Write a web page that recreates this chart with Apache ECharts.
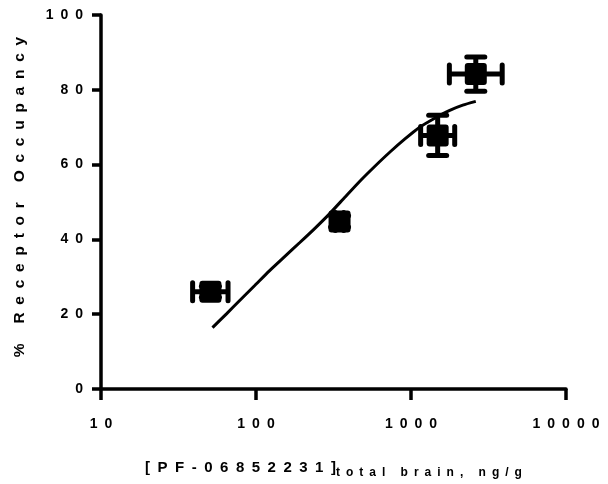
<!DOCTYPE html>
<html>
<head>
<meta charset="utf-8">
<script src="https://cdn.jsdelivr.net/npm/echarts@6/dist/echarts.min.js"></script>
<style>
html,body{margin:0;padding:0;background:#fff;}
#c{width:608px;height:484px;}
</style>
</head>
<body>
<div id="c"></div>
<script>
// Observed data (concentration ng/g, % receptor occupancy)
const pointX = [50.8, 346, 1486, 2618];
const pointY = [26.0, 44.8, 67.8, 84.2];
const xErrLow = [39, 325, 1154, 1768];
const xErrHigh = [66, 368, 1914, 3876];
const yErrLow = [24.5, 43.3, 62.4, 79.6];
const yErrHigh = [27.5, 46.3, 73.2, 88.8];
// Fitted curve
const curveX = [52.4, 64.5, 78.2, 97.8, 122, 153, 191, 239, 299, 373, 466, 583, 729, 910, 1138, 1423, 1778, 2158, 2618];
const curveY = [16.4, 20.1, 23.6, 27.6, 31.6, 35.4, 39.1, 42.9, 46.9, 51.2, 55.5, 59.5, 63.3, 66.8, 70.0, 72.4, 74.5, 75.9, 76.9];
// Axis tick labels
const xTicks = [10, 100, 1000, 10000];
const yTicks = [0, 20, 40, 60, 80, 100];
const yTitle = '% Receptor Occupancy';
const xTitleMain = '[PF-06852231]';
const xTitleSub = 'total brain, ng/g';

const sp = s => String(s).split('').join('\u2002');
const FONT = '"Liberation Sans", Arial, sans-serif';

const chart = echarts.init(document.getElementById('c'), null, {renderer: 'canvas'});

const errData = pointX.map((x, i) => [x, pointY[i], xErrLow[i], xErrHigh[i], yErrLow[i], yErrHigh[i]]);

function renderErr(params, api) {
  const x = api.value(0), y = api.value(1);
  const c = api.coord([x, y]);
  const l = api.coord([api.value(2), y]);
  const r = api.coord([api.value(3), y]);
  const b = api.coord([x, api.value(4)]);
  const t = api.coord([x, api.value(5)]);
  const st = {stroke: '#000', lineWidth: 5};
  const cap = {stroke: '#000', lineWidth: 5, lineCap: 'round'};
  const capH = 9;
  return {
    type: 'group',
    children: [
      {type: 'line', shape: {x1: l[0], y1: c[1], x2: r[0], y2: c[1]}, style: st},
      {type: 'line', shape: {x1: c[0], y1: t[1], x2: c[0], y2: b[1]}, style: st},
      {type: 'line', shape: {x1: l[0], y1: c[1] - capH, x2: l[0], y2: c[1] + capH}, style: cap},
      {type: 'line', shape: {x1: r[0], y1: c[1] - capH, x2: r[0], y2: c[1] + capH}, style: cap},
      {type: 'line', shape: {x1: c[0] - capH, y1: t[1], x2: c[0] + capH, y2: t[1]}, style: cap},
      {type: 'line', shape: {x1: c[0] - capH, y1: b[1], x2: c[0] + capH, y2: b[1]}, style: cap}
    ]
  };
}

chart.setOption({
  backgroundColor: '#fff',
  animation: false,
  grid: {left: 101, top: 15, width: 465, height: 374},
  xAxis: {
    type: 'log', logBase: 10, min: 10, max: 10000,
    axisLine: {lineStyle: {color: '#000', width: 3.5}},
    axisTick: {length: 11, lineStyle: {color: '#000', width: 3.5}},
    minorTick: {show: false},
    splitLine: {show: false},
    axisLabel: {
      margin: 28, color: '#000', fontFamily: FONT, fontWeight: 'bold', fontSize: 14,
      formatter: v => sp(v)
    },
    name: '{a|' + sp(xTitleMain) + '}{b|' + sp(xTitleSub) + '}',
    nameLocation: 'middle', nameGap: 68,
    nameTextStyle: {
      rich: {
        a: {fontFamily: FONT, fontWeight: 'bold', fontSize: 15, color: '#000'},
        b: {fontFamily: FONT, fontWeight: 'bold', fontSize: 12, color: '#000', padding: [10, 0, 0, 0]}
      }
    }
  },
  yAxis: {
    type: 'value', min: 0, max: 100, interval: 20,
    axisLine: {show: true, lineStyle: {color: '#000', width: 3.5}},
    axisTick: {show: true, length: 9, lineStyle: {color: '#000', width: 3.5}},
    splitLine: {show: false},
    axisLabel: {
      margin: 18, color: '#000', fontFamily: FONT, fontWeight: 'bold', fontSize: 14,
      formatter: v => sp(v)
    },
    name: sp(yTitle),
    nameLocation: 'middle', nameRotate: 90, nameGap: 73,
    nameTextStyle: {fontFamily: FONT, fontWeight: 'bold', fontSize: 15.5, color: '#000', padding: [0, 0, 0, 10]}
  },
  series: [
    {
      type: 'line', smooth: 0.2, showSymbol: false, symbol: 'none',
      data: curveX.map((x, i) => [x, curveY[i]]),
      lineStyle: {color: '#000', width: 3},
      z: 2
    },
    {
      type: 'custom', renderItem: renderErr, data: errData,
      encode: {x: 0, y: 1}, z: 3
    },
    {
      type: 'scatter',
      symbol: 'path://M3,0 H19 Q22,0 22,3 V19 Q22,22 19,22 H3 Q0,22 0,19 V3 Q0,0 3,0 Z',
      symbolSize: 22,
      data: pointX.map((x, i) => [x, pointY[i]]),
      itemStyle: {color: '#000', opacity: 1}, z: 4
    }
  ]
});
</script>
</body>
</html>
